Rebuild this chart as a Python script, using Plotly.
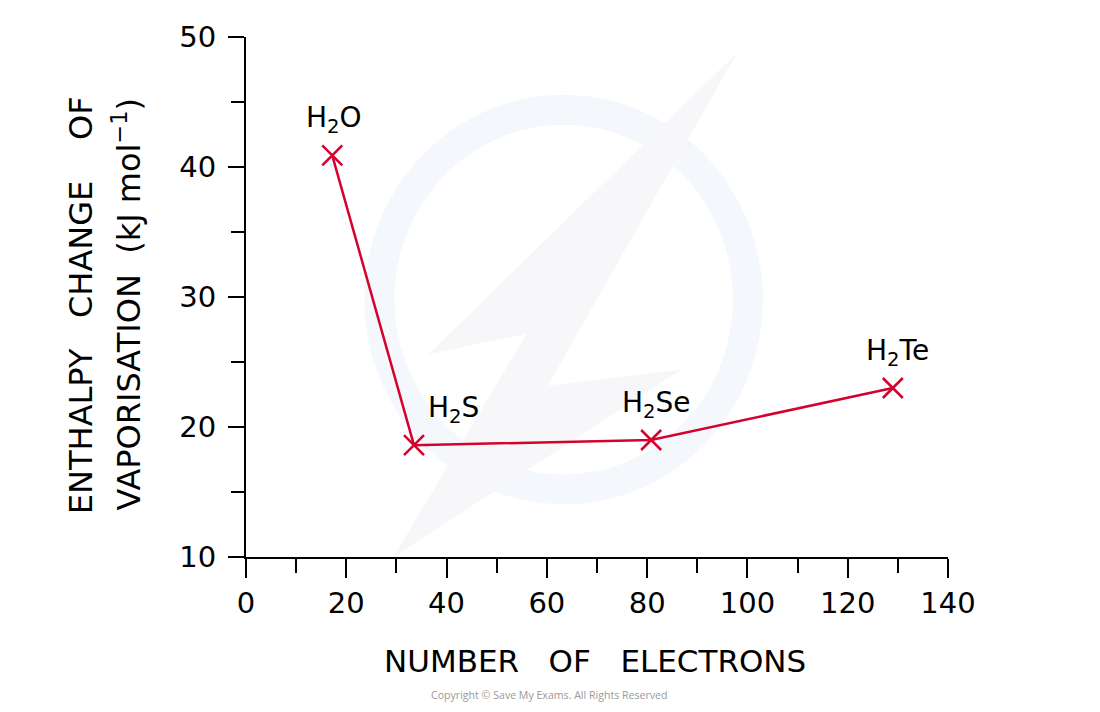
import plotly.graph_objects as go

electrons = [17.2, 33.5, 80.8, 129.0]
enthalpy = [40.9, 18.6, 19.0, 23.0]
labels = ["H<sub>2</sub>O", "H<sub>2</sub>S", "H<sub>2</sub>Se", "H<sub>2</sub>Te"]
label_xshift = [2, 40, 5, 5]

x_ticks = [0, 20, 40, 60, 80, 100, 120, 140]
y_ticks = [10, 20, 30, 40, 50]

FONT = "DejaVu Sans"
RED = "#d4022d"

fig = go.Figure()

# faint watermark
fig.add_shape(type="circle", xref="paper", yref="paper",
              x0=0.19, y0=0.13, x1=0.715, y1=0.86,
              line=dict(color="#f4f8fc", width=30), layer="below")
fig.add_shape(type="path", xref="paper", yref="paper",
              path="M 0.7,0.97 L 0.26,0.39 L 0.4,0.43 L 0.21,0.0 L 0.62,0.36 L 0.43,0.33 Z",
              fillcolor="#f7f7f9", line=dict(width=0), layer="below")

fig.add_trace(go.Scatter(
    x=electrons, y=enthalpy, mode="lines+markers",
    line=dict(color=RED, width=2.5),
    marker=dict(symbol="x-thin", size=20, line=dict(color=RED, width=2.5)),
    showlegend=False, hoverinfo="x+y",
))

for xv, yv, lab, xs in zip(electrons, enthalpy, labels, label_xshift):
    fig.add_annotation(x=xv, y=yv, text=lab, showarrow=False,
                       xshift=xs, yshift=36, xanchor="center", yanchor="middle",
                       font=dict(family=FONT, size=28, color="black"))

fig.add_annotation(xref="paper", yref="paper", x=0.497, y=-0.2,
                   xanchor="center", yanchor="middle",
                   text="NUMBER&nbsp;&nbsp;&nbsp;OF&nbsp;&nbsp;&nbsp;ELECTRONS",
                   showarrow=False, font=dict(family=FONT, size=31, color="black"))
fig.add_annotation(xref="paper", yref="paper", x=-0.236, y=0.485, textangle=-90,
                   xanchor="center", yanchor="middle",
                   text="ENTHALPY&nbsp;&nbsp;&nbsp;CHANGE&nbsp;&nbsp;&nbsp;&nbsp;OF",
                   showarrow=False, font=dict(family=FONT, size=32, color="black"))
fig.add_annotation(xref="paper", yref="paper", x=-0.17, y=0.485, textangle=-90,
                   xanchor="center", yanchor="middle",
                   text="VAPORISATION&nbsp;&nbsp;(kJ mol<sup>−1</sup>)",
                   showarrow=False, font=dict(family=FONT, size=32, color="black"))
fig.add_annotation(xref="paper", yref="paper", x=0.433, y=-0.266,
                   xanchor="center", yanchor="middle",
                   text="Copyright © Save My Exams. All Rights Reserved",
                   showarrow=False, font=dict(family="Open Sans", size=10.6, color="#9a9a9a"))

fig.update_xaxes(range=[0, 140], tickvals=x_ticks, showgrid=False, zeroline=False,
                 showline=True, linecolor="black", linewidth=2,
                 ticks="outside", ticklen=19, tickwidth=2, tickcolor="black",
                 tickfont=dict(family=FONT, size=29, color="black"),
                 minor=dict(dtick=10, ticks="outside", ticklen=14, tickwidth=2,
                            tickcolor="black", showgrid=False),
                 fixedrange=True)
fig.update_yaxes(range=[10, 50], tickvals=y_ticks, showgrid=False, zeroline=False,
                 showline=True, linecolor="black", linewidth=2,
                 ticks="outside", ticklen=16, tickwidth=2, tickcolor="black",
                 tickfont=dict(family=FONT, size=29, color="black"),
                 ticklabelstandoff=6,
                 minor=dict(dtick=5, ticks="outside", ticklen=13, tickwidth=2,
                            tickcolor="black", showgrid=False),
                 fixedrange=True)

fig.update_layout(width=1100, height=712,
                  margin=dict(l=238, r=160, t=19, b=163),
                  paper_bgcolor="white", plot_bgcolor="rgba(0,0,0,0)",
                  font=dict(family=FONT))

fig.write_html("out.html")
